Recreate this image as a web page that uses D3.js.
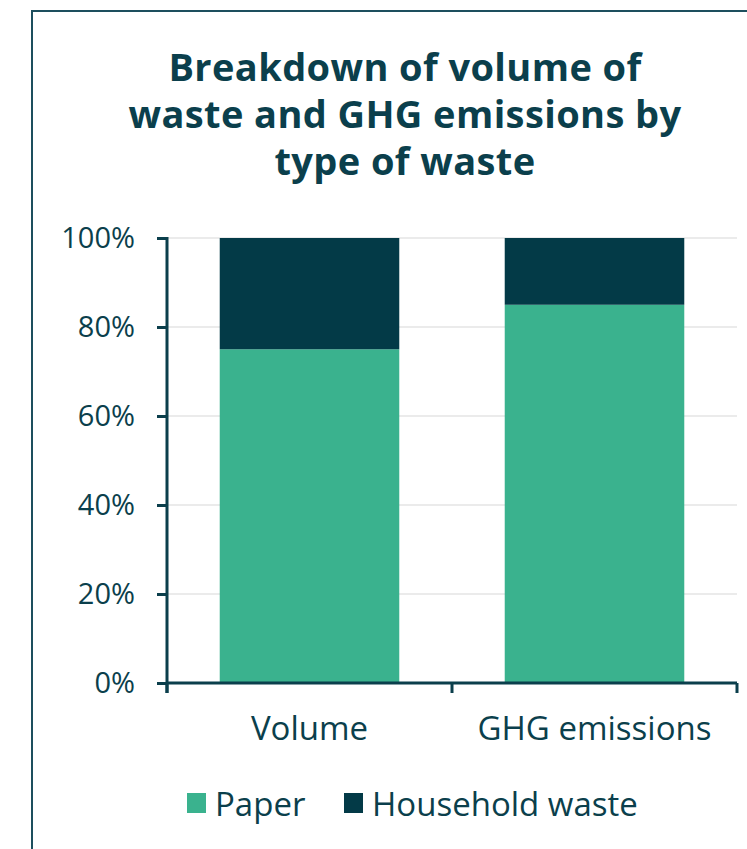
<!DOCTYPE html>
<html>
<head>
<meta charset="utf-8">
<script src="https://cdn.jsdelivr.net/npm/d3@7"></script>
<style>
  body { margin: 0; background: #fff; }
  svg { display: block; font-family: "Open Sans", sans-serif; }
</style>
</head>
<body>
<svg id="chart" width="747" height="849"></svg>
<script>
// data
var categories = ["Volume", "GHG emissions"];
var seriesNames = ["Paper", "Household waste"];
var paperShare = [75, 85];
var householdShare = [25, 15];
var yTicks = [0, 20, 40, 60, 80, 100];
var titleLines = ["Breakdown of volume of", "waste and GHG emissions by", "type of waste"];

var ink = "#0b3f4c";
var colors = ["#3ab28e", "#033a47"];

var svg = d3.select("#chart");

// frame around the chart (runs off the right/bottom edge)
svg.append("rect")
    .attr("x", 32).attr("y", 11)
    .attr("width", 800).attr("height", 900)
    .attr("fill", "none")
    .attr("stroke", "#1d4f5e")
    .attr("stroke-width", 2);

// title
svg.append("text")
    .attr("text-anchor", "middle")
    .attr("fill", ink)
    .attr("font-weight", "bold")
    .attr("font-size", 38)
    .attr("letter-spacing", 0.4)
  .selectAll("tspan")
  .data(titleLines)
  .enter().append("tspan")
    .attr("x", 405)
    .attr("y", function(d, i) { return 81 + i * 47; })
    .text(function(d) { return d; });

var margin = {left: 167, right: 737, top: 238, bottom: 683};

var x = d3.scaleBand()
    .domain(categories)
    .range([margin.left, margin.right])
    .paddingInner(0.37)
    .paddingOuter(0.185);

var y = d3.scaleLinear()
    .domain([0, 100])
    .range([margin.bottom, margin.top]);

// gridlines
svg.append("g")
  .selectAll("line")
  .data(yTicks.slice(1))
  .enter().append("line")
    .attr("x1", margin.left).attr("x2", margin.right)
    .attr("y1", function(d) { return y(d); })
    .attr("y2", function(d) { return y(d); })
    .attr("stroke", "#ebebeb")
    .attr("stroke-width", 2);

// stacked bars
var rows = categories.map(function(c, i) {
  return {cat: c, Paper: paperShare[i], "Household waste": householdShare[i]};
});
var stacked = d3.stack().keys(seriesNames)(rows);

svg.append("g")
  .selectAll("g")
  .data(stacked)
  .enter().append("g")
    .attr("fill", function(d, i) { return colors[i]; })
  .selectAll("rect")
  .data(function(d) { return d; })
  .enter().append("rect")
    .attr("x", function(d) { return x(d.data.cat); })
    .attr("y", function(d) { return y(d[1]); })
    .attr("width", x.bandwidth())
    .attr("height", function(d) { return y(d[0]) - y(d[1]); });

// y axis
var yAxis = svg.append("g")
    .attr("transform", "translate(" + margin.left + ",0)")
    .call(d3.axisLeft(y).tickValues(yTicks).tickSize(10).tickPadding(22)
      .tickFormat(function(d) { return d + "%"; }));
yAxis.select(".domain").remove();
yAxis.append("line")
    .attr("x1", 0).attr("x2", 0)
    .attr("y1", margin.top - 1).attr("y2", margin.bottom + 10);
yAxis.selectAll("line").attr("stroke", ink).attr("stroke-width", 3);
yAxis.selectAll("text")
    .attr("fill", ink)
    .attr("font-size", 29)
    .attr("font-family", "Open Sans, sans-serif");

// x axis with ticks between categories
var boundaries = [margin.left, margin.left + x.step(), margin.right];
var xAxis = svg.append("g");
xAxis.append("line")
    .attr("x1", margin.left - 1).attr("x2", margin.right)
    .attr("y1", margin.bottom).attr("y2", margin.bottom);
xAxis.selectAll(".tk")
  .data(boundaries)
  .enter().append("line")
    .attr("class", "tk")
    .attr("x1", function(d) { return d; })
    .attr("x2", function(d) { return d; })
    .attr("y1", margin.bottom).attr("y2", margin.bottom + 10);
xAxis.selectAll("line").attr("stroke", ink).attr("stroke-width", 3);
xAxis.selectAll("text")
  .data(categories)
  .enter().append("text")
    .attr("x", function(d) { return x(d) + x.bandwidth() / 2; })
    .attr("y", 740)
    .attr("text-anchor", "middle")
    .attr("fill", ink)
    .attr("font-size", 33)
    .text(function(d) { return d; });

// legend
var legendX = [187, 344];
var legend = svg.append("g")
  .selectAll("g")
  .data(seriesNames)
  .enter().append("g")
    .attr("transform", function(d, i) { return "translate(" + legendX[i] + ",793)"; });
legend.append("rect")
    .attr("width", 19).attr("height", 20)
    .attr("fill", function(d, i) { return colors[i]; });
legend.append("text")
    .attr("x", 28).attr("y", 23)
    .attr("fill", ink)
    .attr("font-size", 33)
    .text(function(d) { return d; });
</script>
</body>
</html>
